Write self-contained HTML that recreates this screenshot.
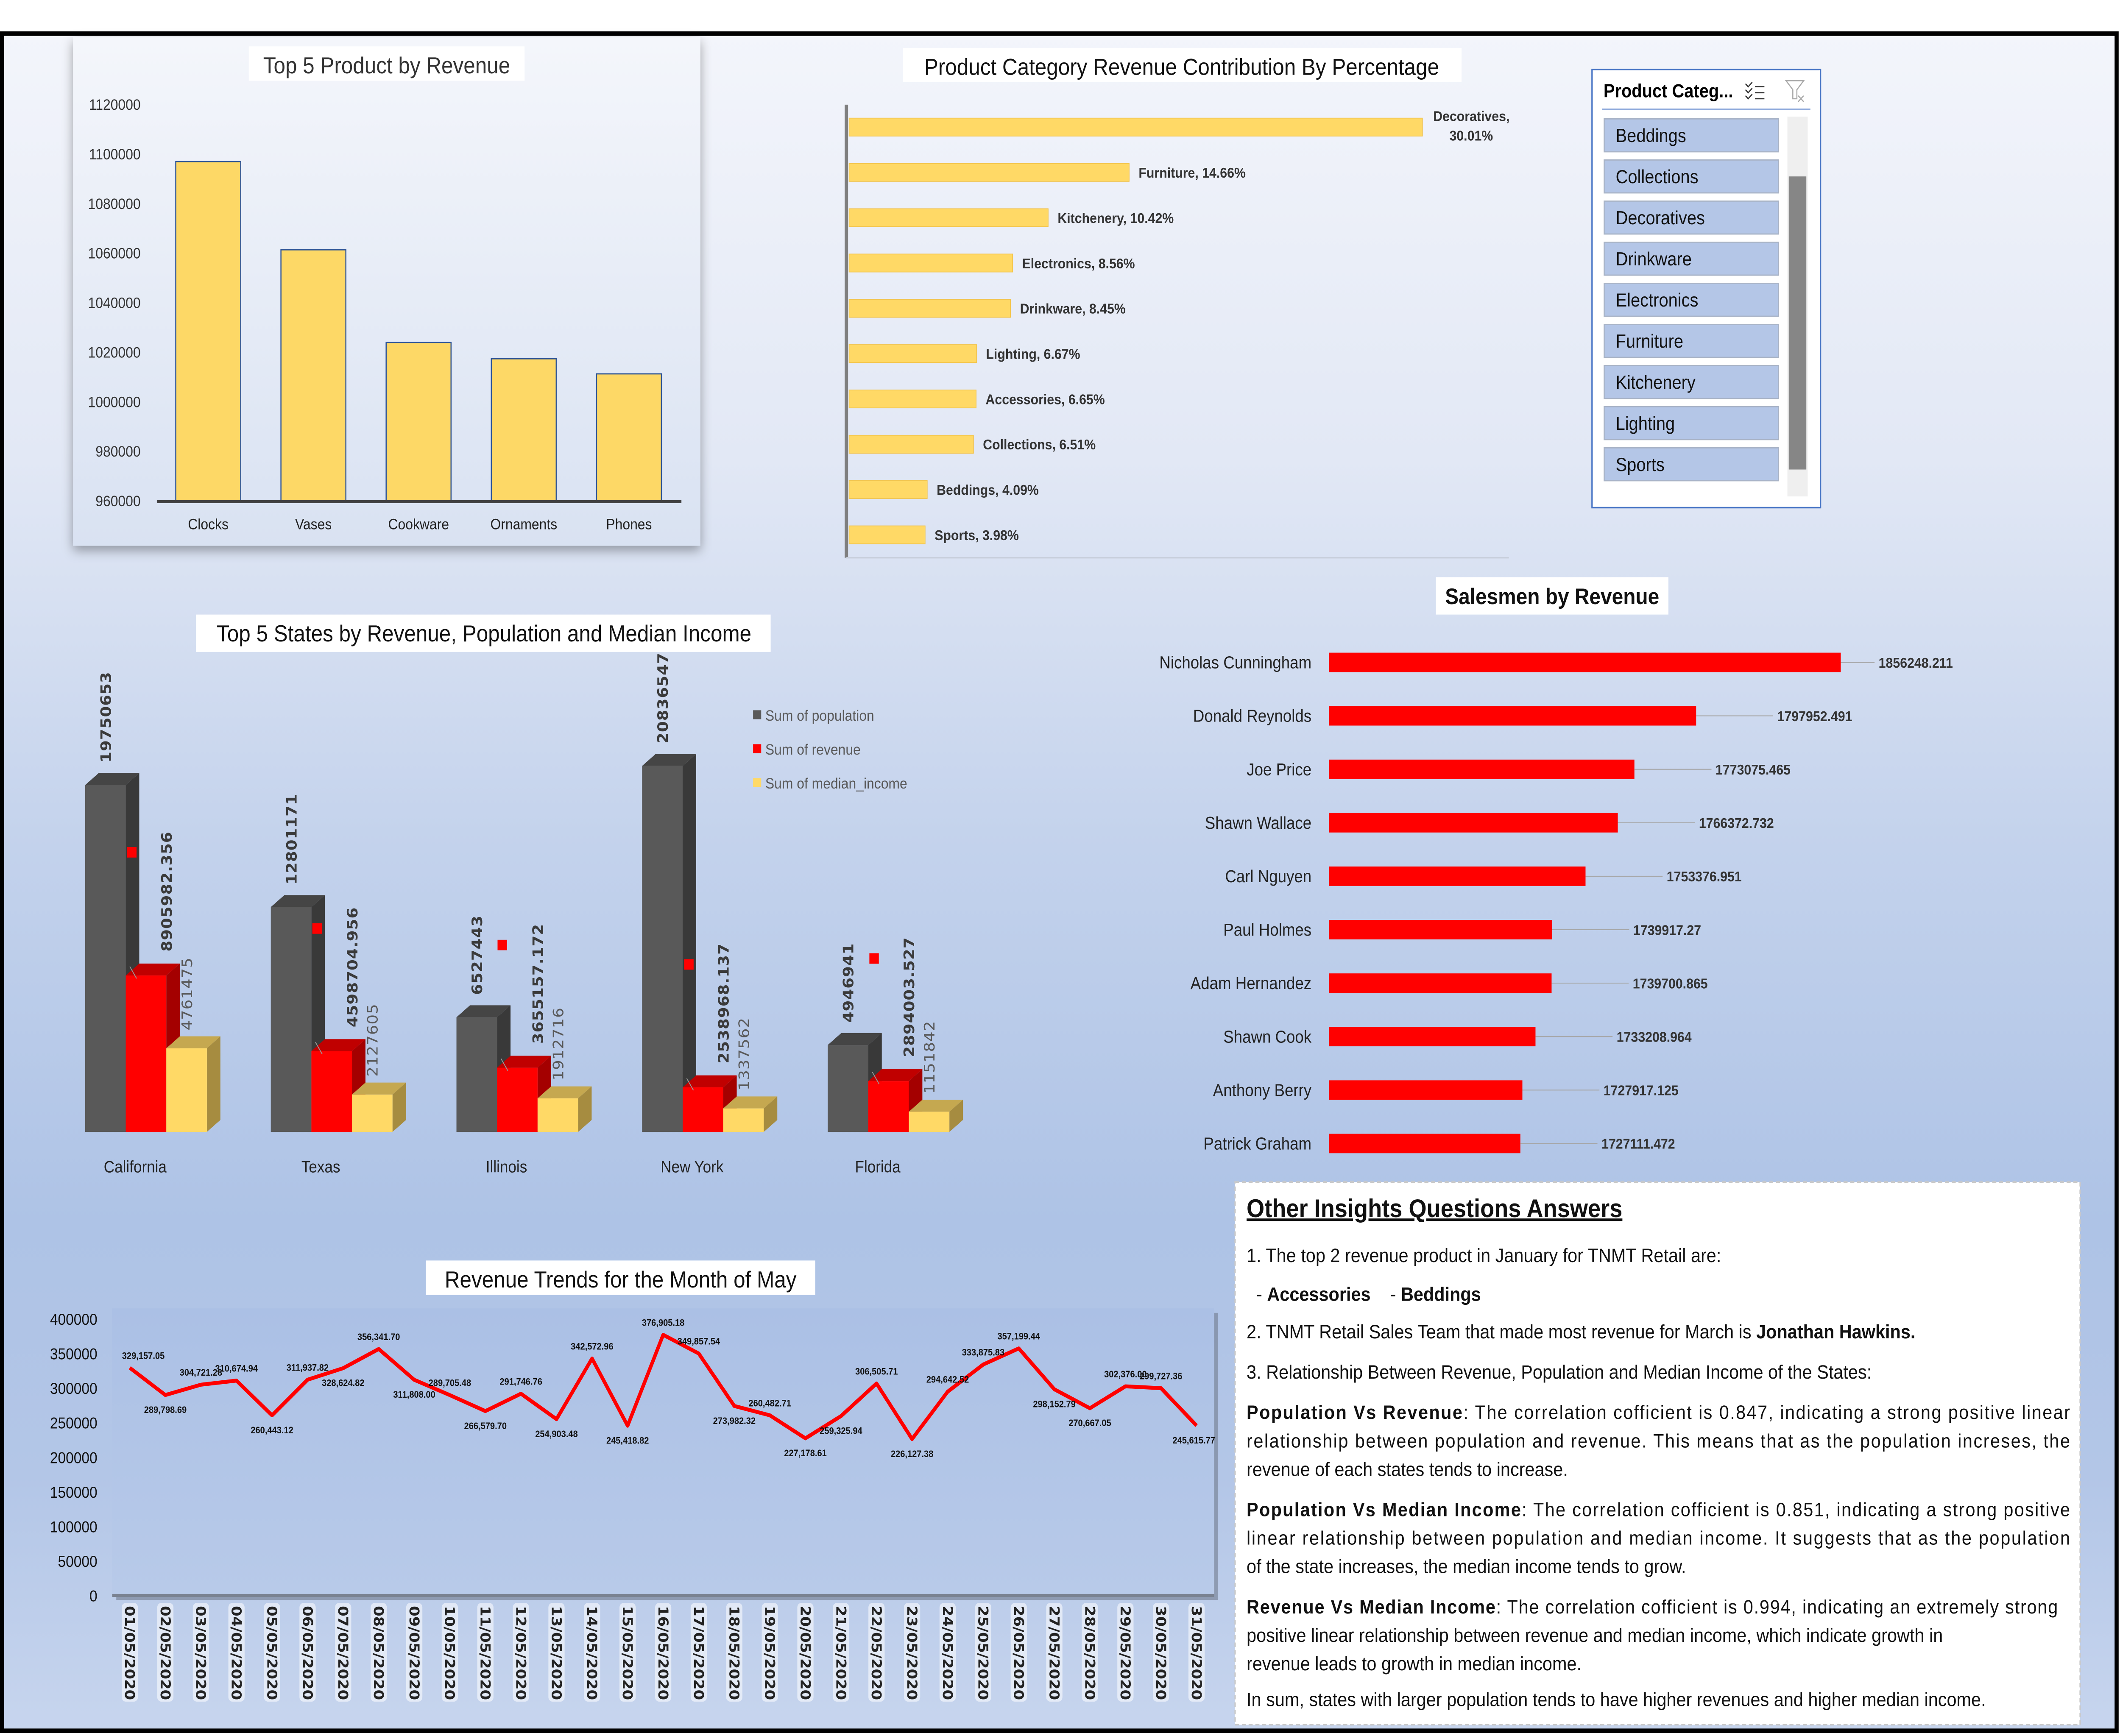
<!DOCTYPE html>
<html><head><meta charset="utf-8">
<style>
html,body{margin:0;padding:0;background:#fff;width:100%;height:100%;overflow:hidden;}
#page{position:absolute;left:0;top:0;width:100vw;height:100vh;display:block;font-family:"Liberation Sans",sans-serif;}
</style></head>
<body>
<svg id="page" viewBox="0 0 1568 1161" preserveAspectRatio="none" xmlns="http://www.w3.org/2000/svg">
<defs>
<linearGradient id="bgGrad" x1="0" y1="0" x2="0" y2="1">
<stop offset="0" stop-color="#f3f5fb"/><stop offset="0.25" stop-color="#e2e8f5"/><stop offset="0.48" stop-color="#c3d2ec"/><stop offset="0.7" stop-color="#aec3e6"/><stop offset="0.85" stop-color="#b3c6e7"/><stop offset="1" stop-color="#c7d5ee"/>
</linearGradient>
<linearGradient id="panelGrad" x1="0" y1="0" x2="0" y2="1"><stop offset="0" stop-color="#f4f6fb"/><stop offset="1" stop-color="#d9e2f2"/></linearGradient>
<linearGradient id="plotGrad" x1="0" y1="0" x2="0" y2="1"><stop offset="0" stop-color="#abc0e5"/><stop offset="1" stop-color="#b8cae9"/></linearGradient>
<filter id="shadow" x="-5%" y="-5%" width="110%" height="115%"><feDropShadow dx="0" dy="3" stdDeviation="4" flood-color="#000" flood-opacity="0.35"/></filter>
</defs>
<rect x="0" y="0" width="1568" height="1161" fill="#fff"/>
<rect x="1.5" y="22.5" width="1564" height="1135" fill="url(#bgGrad)" stroke="#000" stroke-width="3"/>

<rect x="54" y="25" width="464" height="340" fill="url(#panelGrad)" filter="url(#shadow)"/>
<g><rect x="184" y="31" width="204" height="23" fill="#fff"/><text x="286" y="49" text-anchor="middle" font-size="15.5" fill="#333">Top 5 Product by Revenue</text></g>

<g><rect x="668" y="32" width="413" height="23" fill="#fff"/><text x="874" y="50" text-anchor="middle" font-size="15.5" fill="#111">Product Category Revenue Contribution By Percentage</text></g>

<rect x="1177.5" y="46.5" width="169" height="293" fill="#fff" stroke="#4472c4" stroke-width="1"/>
<text x="1186" y="65" font-size="12.5" font-weight="bold" fill="#000">Product Categ...</text>
<g stroke="#333" stroke-width="0.8" fill="none">
<path d="M1291 56 l2 2 l3 -3 M1291 60 l2 2 l3 -3 M1291 64 l2 2 l3 -3 M1298 58 h7 M1298 62 h7 M1298 66 h7"/></g>
<g stroke="#aaa" stroke-width="0.8" fill="none">
<path d="M1321 54 h13 l-5 6 v6 h-3 v-6 z M1330 64 l4 4 M1334 64 l-4 4"/></g>
<line x1="1185" y1="73" x2="1339" y2="73" stroke="#4472c4" stroke-width="0.6"/>
<rect x="1322" y="78" width="15" height="254" fill="#efefef"/>
<rect x="1323" y="118" width="13" height="196" fill="#868686"/>
<g id="slicer-items"></g>

<g><rect x="145" y="411" width="425" height="25" fill="#fff"/><text x="358" y="429" text-anchor="middle" font-size="15.5" fill="#111">Top 5 States by Revenue, Population and Median Income</text></g>

<g><rect x="1062" y="386" width="172" height="25" fill="#fff"/><text x="1148" y="404" text-anchor="middle" font-size="15" font-weight="bold" fill="#111">Salesmen by Revenue</text></g>

<rect x="86" y="878" width="815" height="192" fill="#6f7a8c" opacity="0.6"/>
<rect x="83" y="875" width="815" height="192" fill="url(#plotGrad)"/>
<g><rect x="315" y="843" width="288" height="23" fill="#fff"/><text x="459" y="861" text-anchor="middle" font-size="15.5" fill="#111">Revenue Trends for the Month of May</text></g>

<g id="charts"></g>

<g font-size="13" fill="#111">
<rect x="913.5" y="790.5" width="625" height="363" fill="#fff" stroke="#c9c9c9" stroke-dasharray="3 2"/>
<text x="922" y="814" font-size="17" font-weight="bold" text-decoration="underline">Other Insights Questions Answers</text>
<text x="922" y="844">1. The top 2 revenue product in January for TNMT Retail are:</text>
<text x="922" y="870" xml:space="preserve">  - <tspan font-weight="bold">Accessories</tspan>    - <tspan font-weight="bold">Beddings</tspan></text>
<text x="922" y="895">2. TNMT Retail Sales Team that made most revenue for March is <tspan font-weight="bold">Jonathan Hawkins.</tspan></text>
<text x="922" y="922">3. Relationship Between Revenue, Population and Median Income of the States:</text>
<text x="922" y="949" textLength="609" lengthAdjust="spacing"><tspan font-weight="bold">Population Vs Revenue</tspan>: The correlation cofficient is 0.847, indicating a strong positive linear</text>
<text x="922" y="968" textLength="609" lengthAdjust="spacing">relationship between population and revenue. This means that as the population increses, the</text>
<text x="922" y="987">revenue of each states tends to increase.</text>
<text x="922" y="1014" textLength="609" lengthAdjust="spacing"><tspan font-weight="bold">Population Vs Median Income</tspan>: The correlation cofficient is 0.851, indicating a strong positive</text>
<text x="922" y="1033" textLength="609" lengthAdjust="spacing">linear relationship between population and median income. It suggests that as the population</text>
<text x="922" y="1052">of the state increases, the median income tends to grow.</text>
<text x="922" y="1079" textLength="600" lengthAdjust="spacing"><tspan font-weight="bold">Revenue Vs Median Income</tspan>: The correlation cofficient is 0.994, indicating an extremely strong</text>
<text x="922" y="1098">positive linear relationship between revenue and median income, which indicate growth in</text>
<text x="922" y="1117">revenue leads to growth in median income.</text>
<text x="922" y="1141">In sum, states with larger population tends to have higher revenues and higher median income.</text>
</g>
</svg>

<script>
// ---- data ----
const productNames = ["Clocks","Vases","Cookware","Ornaments","Phones"];
const productRevenue = [1097000,1061400,1024000,1017400,1011300];
const productTicks = [960000,980000,1000000,1020000,1040000,1060000,1080000,1100000,1120000];

const categoryNames = ["Decoratives","Furniture","Kitchenery","Electronics","Drinkware","Lighting","Accessories","Collections","Beddings","Sports"];
const categoryPct = [30.01,14.66,10.42,8.56,8.45,6.67,6.65,6.51,4.09,3.98];

const slicerItems = ["Beddings","Collections","Decoratives","Drinkware","Electronics","Furniture","Kitchenery","Lighting","Sports"];

const stateNames = ["California","Texas","Illinois","New York","Florida"];
const statePopulation = [19750653,12801171,6527443,20836547,4946941];
const stateRevenue = [8905982.356,4598704.956,3655157.172,2538968.137,2894003.527];
const stateMedianIncome = [4761475,2127605,1912716,1337562,1151842];
const legendLabels = ["Sum of population","Sum of revenue","Sum of median_income"];

const salesNames = ["Nicholas Cunningham","Donald Reynolds","Joe Price","Shawn Wallace","Carl Nguyen","Paul Holmes","Adam Hernandez","Shawn Cook","Anthony Berry","Patrick Graham"];
const salesRevenue = [1856248.211,1797952.491,1773075.465,1766372.732,1753376.951,1739917.27,1739700.865,1733208.964,1727917.125,1727111.472];

const trendDates = ["01/05/2020","02/05/2020","03/05/2020","04/05/2020","05/05/2020","06/05/2020","07/05/2020","08/05/2020","09/05/2020","10/05/2020","11/05/2020","12/05/2020","13/05/2020","14/05/2020","15/05/2020","16/05/2020","17/05/2020","18/05/2020","19/05/2020","20/05/2020","21/05/2020","22/05/2020","23/05/2020","24/05/2020","25/05/2020","26/05/2020","27/05/2020","28/05/2020","29/05/2020","30/05/2020","31/05/2020"];
const trendRevenue = [329157.05,289798.69,304721.28,310674.94,260443.12,311937.82,328624.82,356341.70,311808.00,289705.48,266579.70,291746.76,254903.48,342572.96,245418.82,376905.18,349857.54,273982.32,260482.71,227178.61,259325.94,306505.71,226127.38,294642.52,333875.83,357199.44,298152.79,270667.05,302376.00,299727.36,245615.77];
const trendTicks = [0,50000,100000,150000,200000,250000,300000,350000,400000];

const NS="http://www.w3.org/2000/svg";
const svg=document.getElementById('charts');
function mk(tag,attrs,parent,txt){const e=document.createElementNS(NS,tag);for(const k in attrs)e.setAttribute(k,attrs[k]);if(txt!==undefined)e.textContent=txt;(parent||svg).appendChild(e);return e;}
function fmt(v){return v.toLocaleString('en-US',{minimumFractionDigits:2,maximumFractionDigits:2});}

// slicer
(function(){
const sg=document.getElementById('slicer-items');
slicerItems.forEach((n,i)=>{const top=79+i*27.5;
const r=mk('rect',{x:1186.5,y:top+0.5,width:129,height:22,fill:'#b4c6e7',stroke:'#a8b3c6','stroke-width':0.8},sg);


const t=mk('text',{x:1195,y:top+16,'font-size':12.5,fill:'#111'},sg,n);

});
})();

// top products
(function(){
const y=v=>335-(v-960000)/160000*265;
const g=mk('g',{});


productTicks.forEach(t=>{const e=mk('text',{x:104,y:y(t)+3.5,'text-anchor':'end','font-size':10,fill:'#333'},g,String(t));

});
productRevenue.forEach((v,i)=>{const cx=154+i*77.8;
const r=mk('rect',{x:cx-24,y:y(v),width:48,height:335-y(v),fill:'#fdd866',stroke:'#2f5597','stroke-width':0.8},g);


const t=mk('text',{x:cx,y:354,'text-anchor':'middle','font-size':10,fill:'#222'},g,productNames[i]);

});
const ax=mk('line',{x1:116,y1:335.5,x2:504,y2:335.5,stroke:'#404040','stroke-width':2},g);


})();

// category
(function(){
const g=mk('g',{});


const a1=mk('line',{x1:626,y1:70,x2:626,y2:373,stroke:'#7f7f7f','stroke-width':2.5},g);


const a2=mk('line',{x1:626,y1:373,x2:1116,y2:373,stroke:'#c8cfdc','stroke-width':1},g);


categoryPct.forEach((p,i)=>{const cy=85+i*30.3;const w=p*14.13;
const r=mk('rect',{x:628,y:cy-6,width:w,height:12,fill:'#ffd966',stroke:'#f2c34a','stroke-width':0.5},g);


if(i===0){
const t=mk('text',{x:628+w+8,y:cy-4,'font-size':9.5,'font-weight':'bold',fill:'#333'},g);
mk('tspan',{x:628+w+8},t,categoryNames[i]+',');
mk('tspan',{x:628+w+20,dy:13},t,p.toFixed(2)+'%');


}else{
const t=mk('text',{x:628+w+7,y:cy+3.5,'font-size':9.5,'font-weight':'bold',fill:'#333'},g,categoryNames[i]+', '+p.toFixed(2)+'%');

}
});
})();

// states 3D
(function(){
const g=mk('g',{});


const base=757, sc=232/19750653, dx=10, dy=8, bw=30;
const cols=[['#595959','#393939','#454545'],['#ff0000','#a40000','#c00000'],['#ffd966','#a68c40','#c5a850']];
const series=[statePopulation,stateRevenue,stateMedianIncome];
const sNames=['population','revenue','median-income'];
stateNames.forEach((s,i)=>{
const gx=63+i*137.3;
series.forEach((arr,k)=>{
const v=arr[i];const x=gx+k*bw;const h=v*sc;const top=base-h;
const c=cols[k];
const side=mk('polygon',{points:`${x+bw},${top} ${x+bw+dx},${top-dy} ${x+bw+dx},${base-dy} ${x+bw},${base}`,fill:c[1]},g);


const tp=mk('polygon',{points:`${x},${top} ${x+dx},${top-dy} ${x+bw+dx},${top-dy} ${x+bw},${top}`,fill:c[2]},g);


const fr=mk('rect',{x:x,y:top,width:bw,height:h,fill:c[0]},g);


let lx,ly,txt,attrs;
if(k===0){lx=x+bw/2+4;ly=top-15;txt=String(v);attrs={'font-weight':'bold',fill:'#3a3a3a'};}
else if(k===1){lx=x+bw+4;ly=top-16;txt=v.toFixed(3);attrs={'font-weight':'bold',fill:'#3a3a3a'};
const ll=mk('line',{x1:x+3,y1:top-6,x2:x+8,y2:top+2,stroke:'#999','stroke-width':0.6},g);

}
else {lx=x+bw/2+4;ly=top-12;txt=String(v);attrs={fill:'#595959'};}
const t=mk('text',Object.assign({x:lx,y:ly,'font-size':10.5,'font-family':'"DejaVu Sans",sans-serif','letter-spacing':0.3,transform:`rotate(-90 ${lx} ${ly})`},attrs),g,txt);


});
const cl=mk('text',{x:gx+37,y:784,'text-anchor':'middle','font-size':11,fill:'#222'},g,s);


});
const markX=[97,234,371,509,646], markY=[570,621,632,645,641];
markX.forEach((mx,i)=>{const m=mk('rect',{x:mx-3,y:markY[i]-3.5,width:7,height:7,fill:'#ff0000'},g);

});
const lc=['#595959','#ff0000','#ffd966'];
legendLabels.forEach((l,i)=>{const ly=479+i*22.7;
const sq=mk('rect',{x:557,y:ly-4,width:6,height:6,fill:lc[i]},g);


const t=mk('text',{x:566,y:ly+3,'font-size':10,fill:'#595959'},g,l);

});
})();

// salesmen
(function(){
const g=mk('g',{});


const x0=983, k=0.001835, vmin=1650000;
salesRevenue.forEach((v,i)=>{const cy=443+i*35.75;const w=(v-vmin)*k;
const n=mk('text',{x:970,y:cy+4,'text-anchor':'end','font-size':11.5,fill:'#222'},g,salesNames[i]);


const r=mk('rect',{x:x0,y:cy-6.5,width:w,height:13,fill:'#ff0000'},g);


const lx=x0+w+(i===0?28:60);
const ln=mk('line',{x1:x0+w,y1:cy,x2:lx-3,y2:cy,stroke:'#a6a6a6','stroke-width':0.6},g);


const t=mk('text',{x:lx,y:cy+3.5,'font-size':9.5,'font-weight':'bold',fill:'#333'},g,String(v));

});
})();

// trend
(function(){
const g=mk('g',{});


const x=i=>96+i*26.3, y=v=>1067-v/400000*185;
trendTicks.forEach(t=>{const e=mk('text',{x:72,y:y(t)+4,'text-anchor':'end','font-size':10.5,fill:'#111'},g,String(t));

});
const base=mk('line',{x1:83,y1:1067,x2:898,y2:1067,stroke:'#7a8291','stroke-width':2},g);


const pts=trendRevenue.map((v,i)=>x(i)+','+y(v)).join(' ');
const pl=mk('polyline',{points:pts,fill:'none',stroke:'#ff0000','stroke-width':2.6,'stroke-linejoin':'round'},g);


trendRevenue.forEach((v,i)=>{
const prev=i>0?trendRevenue[i-1]:v, next=i<trendRevenue.length-1?trendRevenue[i+1]:v;
const above=v>=(prev+next)/2;
const ly=above?y(v)-6:y(v)+12;
const t=mk('text',{x:x(i)+(i===0?10:(i===30?-2:0)),y:ly,'text-anchor':'middle','font-size':6.3,'font-weight':'bold',fill:'#111'},g,fmt(v));


const lx=x(i)-3.5, ly2=1074;
const bgR=mk('rect',{x:x(i)-6,y:1072,width:12,height:66,fill:'#ffffff',opacity:0.55,rx:3},g);


const dt=mk('text',{x:lx,y:ly2,'font-size':10,'font-weight':'bold',fill:'#222','font-family':'"DejaVu Sans",sans-serif',transform:`rotate(90 ${lx} ${ly2})`},g,trendDates[i]);


});
})();
</script>
</body></html>
